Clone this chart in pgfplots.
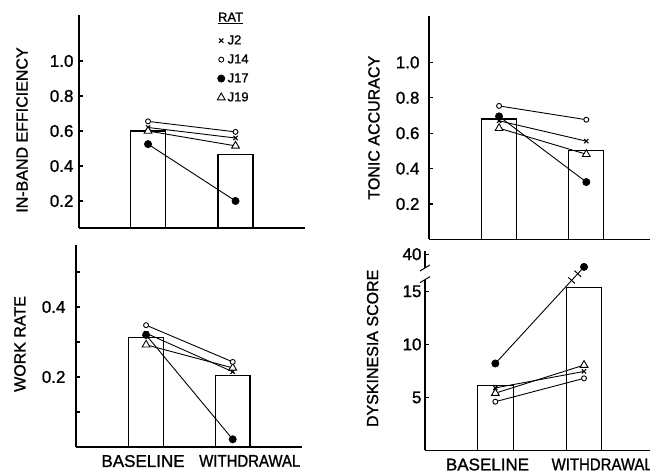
\documentclass[border=0pt]{standalone}
\usepackage{pgfplots}
\pgfplotsset{compat=1.18}
\usepackage{graphicx}
\usepackage{fontspec}
\setmainfont{Liberation Sans}[FakeBold=1.2]
\begin{document}
\begin{tikzpicture}[x=1pt,y=1pt]
\useasboundingbox (0,0) rectangle (650,476);
\pgfplotsset{
  panel/.style={
    scale only axis, anchor=south west,
    axis x line*=bottom, axis y line*=left,
    axis line style={-, line width=1.2pt},
    tick align=inside, major tick length=4pt,
    ytick style={line width=1.1pt, black},
    xtick style={draw=none},
    yticklabel style={font=\fontsize{17}{17}\selectfont},
    xticklabel style={font=\fontsize{17}{17}\selectfont, yshift=-4.5pt},
    ylabel style={font=\fontsize{16}{16}\selectfont, anchor=center},
    clip mode=individual,
  },
  rat2/.style={black, line width=0.9pt, mark=x, mark size=3pt, mark options={solid, line width=1.1pt}},
  rat14/.style={black, line width=0.9pt, mark=*, mark size=2.5pt, mark options={solid, fill=white, line width=0.9pt}},
  rat17/.style={black, line width=0.9pt, mark=*, mark size=3.5pt, mark options={solid, fill=black}},
  rat19/.style={black, line width=0.9pt, mark=triangle*, mark size=4.5pt, mark options={solid, fill=white, line width=0.9pt}},
  barst/.style={ybar, bar width=0.4, fill=white, draw=black, line width=1.1pt, forget plot},
}

% ---------- Panel 1: In-band efficiency ----------
\begin{axis}[panel, at={(79pt,248pt)}, width=226pt, height=213pt,
  xmin=0.211, xmax=2.794, ymin=0.0457, ymax=1.263,
  xtick=\empty,
  ytick={0.2,0.4,0.6,0.8,1.0}, yticklabels={0.2,0.4,0.6,0.8,1.0},
  yticklabel style={xshift=-2pt},
  ylabel={IN-BAND EFFICIENCY},
  ylabel style={at={(axis description cs:-0.252,0.46)}},
  legend image code/.code={\draw[#1] plot coordinates {(0pt,0pt)};},
  legend style={at={(axis cs:1.79,1.148)}, anchor=north west, draw=none, fill=none,
    inner sep=0pt, font=\fontsize{13}{14}\selectfont, row sep=8.5pt,
    nodes={inner xsep=2.5pt, inner ysep=0pt}},
  legend cell align=left,
]
\addplot[barst] coordinates {(1,0.600) (2,0.467)};
\addplot[rat2, forget plot]  coordinates {(1,0.620) (2,0.560)};
\addplot[rat19, forget plot] coordinates {(1,0.600) (2,0.515)};
\addplot[rat17, forget plot] coordinates {(1,0.525) (2,0.200)};
\addplot[rat14, forget plot] coordinates {(1,0.655) (2,0.595)};
\addlegendimage{rat2}\addlegendentry{J2}
\addlegendimage{rat14}\addlegendentry{J14}
\addlegendimage{rat17}\addlegendentry{J17}
\addlegendimage{rat19}\addlegendentry{J19}
\node[font=\fontsize{13}{14}\selectfont, anchor=center] at (axis cs:1.943,1.245) {\underline{RAT}};
\end{axis}

% ---------- Panel 2: Tonic accuracy ----------
\begin{axis}[panel, at={(429pt,236.6pt)}, width=221pt, height=223.4pt,
  xmin=0.197, xmax=2.73, ymin=0, ymax=1.262,
  xtick=\empty,
  ytick={0.2,0.4,0.6,0.8,1.0}, yticklabels={0.2,0.4,0.6,0.8,1.0},
  yticklabel style={xshift=-6pt},
  ylabel={TONIC ACCURACY},
  ylabel style={at={(axis description cs:-0.249,0.50)}},
]
\addplot[barst] coordinates {(1,0.680) (2,0.501)};
\addplot[rat2]  coordinates {(1,0.670) (2,0.555)};
\addplot[rat19] coordinates {(1,0.628) (2,0.481)};
\addplot[rat17] coordinates {(1,0.695) (2,0.324)};
\addplot[rat14] coordinates {(1,0.754) (2,0.676)};
\end{axis}

% ---------- Panel 3: Work rate ----------
\begin{axis}[panel, at={(76pt,29pt)}, width=226pt, height=202pt,
  xmin=0.191, xmax=2.80, ymin=0, ymax=0.577,
  xtick={0.965,2.197}, xticklabels={BASELINE,\scalebox{0.88}[1]{WITHDRAWAL}},
  ytick={0.1,0.2,0.3,0.4,0.5}, yticklabels={,0.2,,0.4,},
  yticklabel style={xshift=-7pt},
  ylabel={WORK RATE},
  ylabel style={at={(axis description cs:-0.248,0.51)}},
]
\addplot[barst] coordinates {(1,0.314) (2,0.203)};
\addplot[rat2]  coordinates {(1,0.325) (2,0.215)};
\addplot[rat19] coordinates {(1,0.292) (2,0.226)};
\addplot[rat17] coordinates {(1,0.320) (2,0.022)};
\addplot[rat14] coordinates {(1,0.348) (2,0.243)};
\end{axis}

% ---------- Panel 4: Dyskinesia score ----------
\begin{axis}[panel, at={(425pt,25.5pt)}, width=225pt, height=199.5pt,
  xmin=0.207, xmax=2.744, ymin=0, ymax=18.8,
  xtick={0.912,2.205}, xticklabels={BASELINE,\scalebox{0.88}[1]{WITHDRAWAL}},
  ytick={5,10,15,18.5}, yticklabels={5,10,15,40},
  yticklabel style={xshift=0pt},
  ylabel={DYSKINESIA SCORE},
  ylabel style={at={(axis description cs:-0.233,0.512)}},
]
\addplot[barst] coordinates {(1,6.10) (2,15.35)};
\addplot[rat2]  coordinates {(1,5.90) (2,7.45)};
\addplot[rat19] coordinates {(1,5.40) (2,8.05)};
\addplot[rat14] coordinates {(1,4.60) (2,6.80)};
\addplot[rat17] coordinates {(1,8.20) (2,17.30)};
% axis break
\fill[white] ([xshift=-2pt]axis cs:0.207,16.1) rectangle ([xshift=2pt]axis cs:0.207,17.2);
\draw[line width=1pt] ([xshift=-5pt,yshift=-3pt]axis cs:0.207,17.2) -- ([xshift=5pt,yshift=3pt]axis cs:0.207,17.2);
\draw[line width=1pt] ([xshift=-5pt,yshift=-3pt]axis cs:0.207,16.1) -- ([xshift=5pt,yshift=3pt]axis cs:0.207,16.1);
% break on the line
\draw[line width=1pt] ([xshift=-3.3pt,yshift=3pt]axis cs:1.86,16.03) -- ([xshift=3.3pt,yshift=-3pt]axis cs:1.86,16.03);
\draw[line width=1pt] ([xshift=-3.3pt,yshift=3pt]axis cs:1.93,16.66) -- ([xshift=3.3pt,yshift=-3pt]axis cs:1.93,16.66);
\end{axis}
\end{tikzpicture}
\end{document}
